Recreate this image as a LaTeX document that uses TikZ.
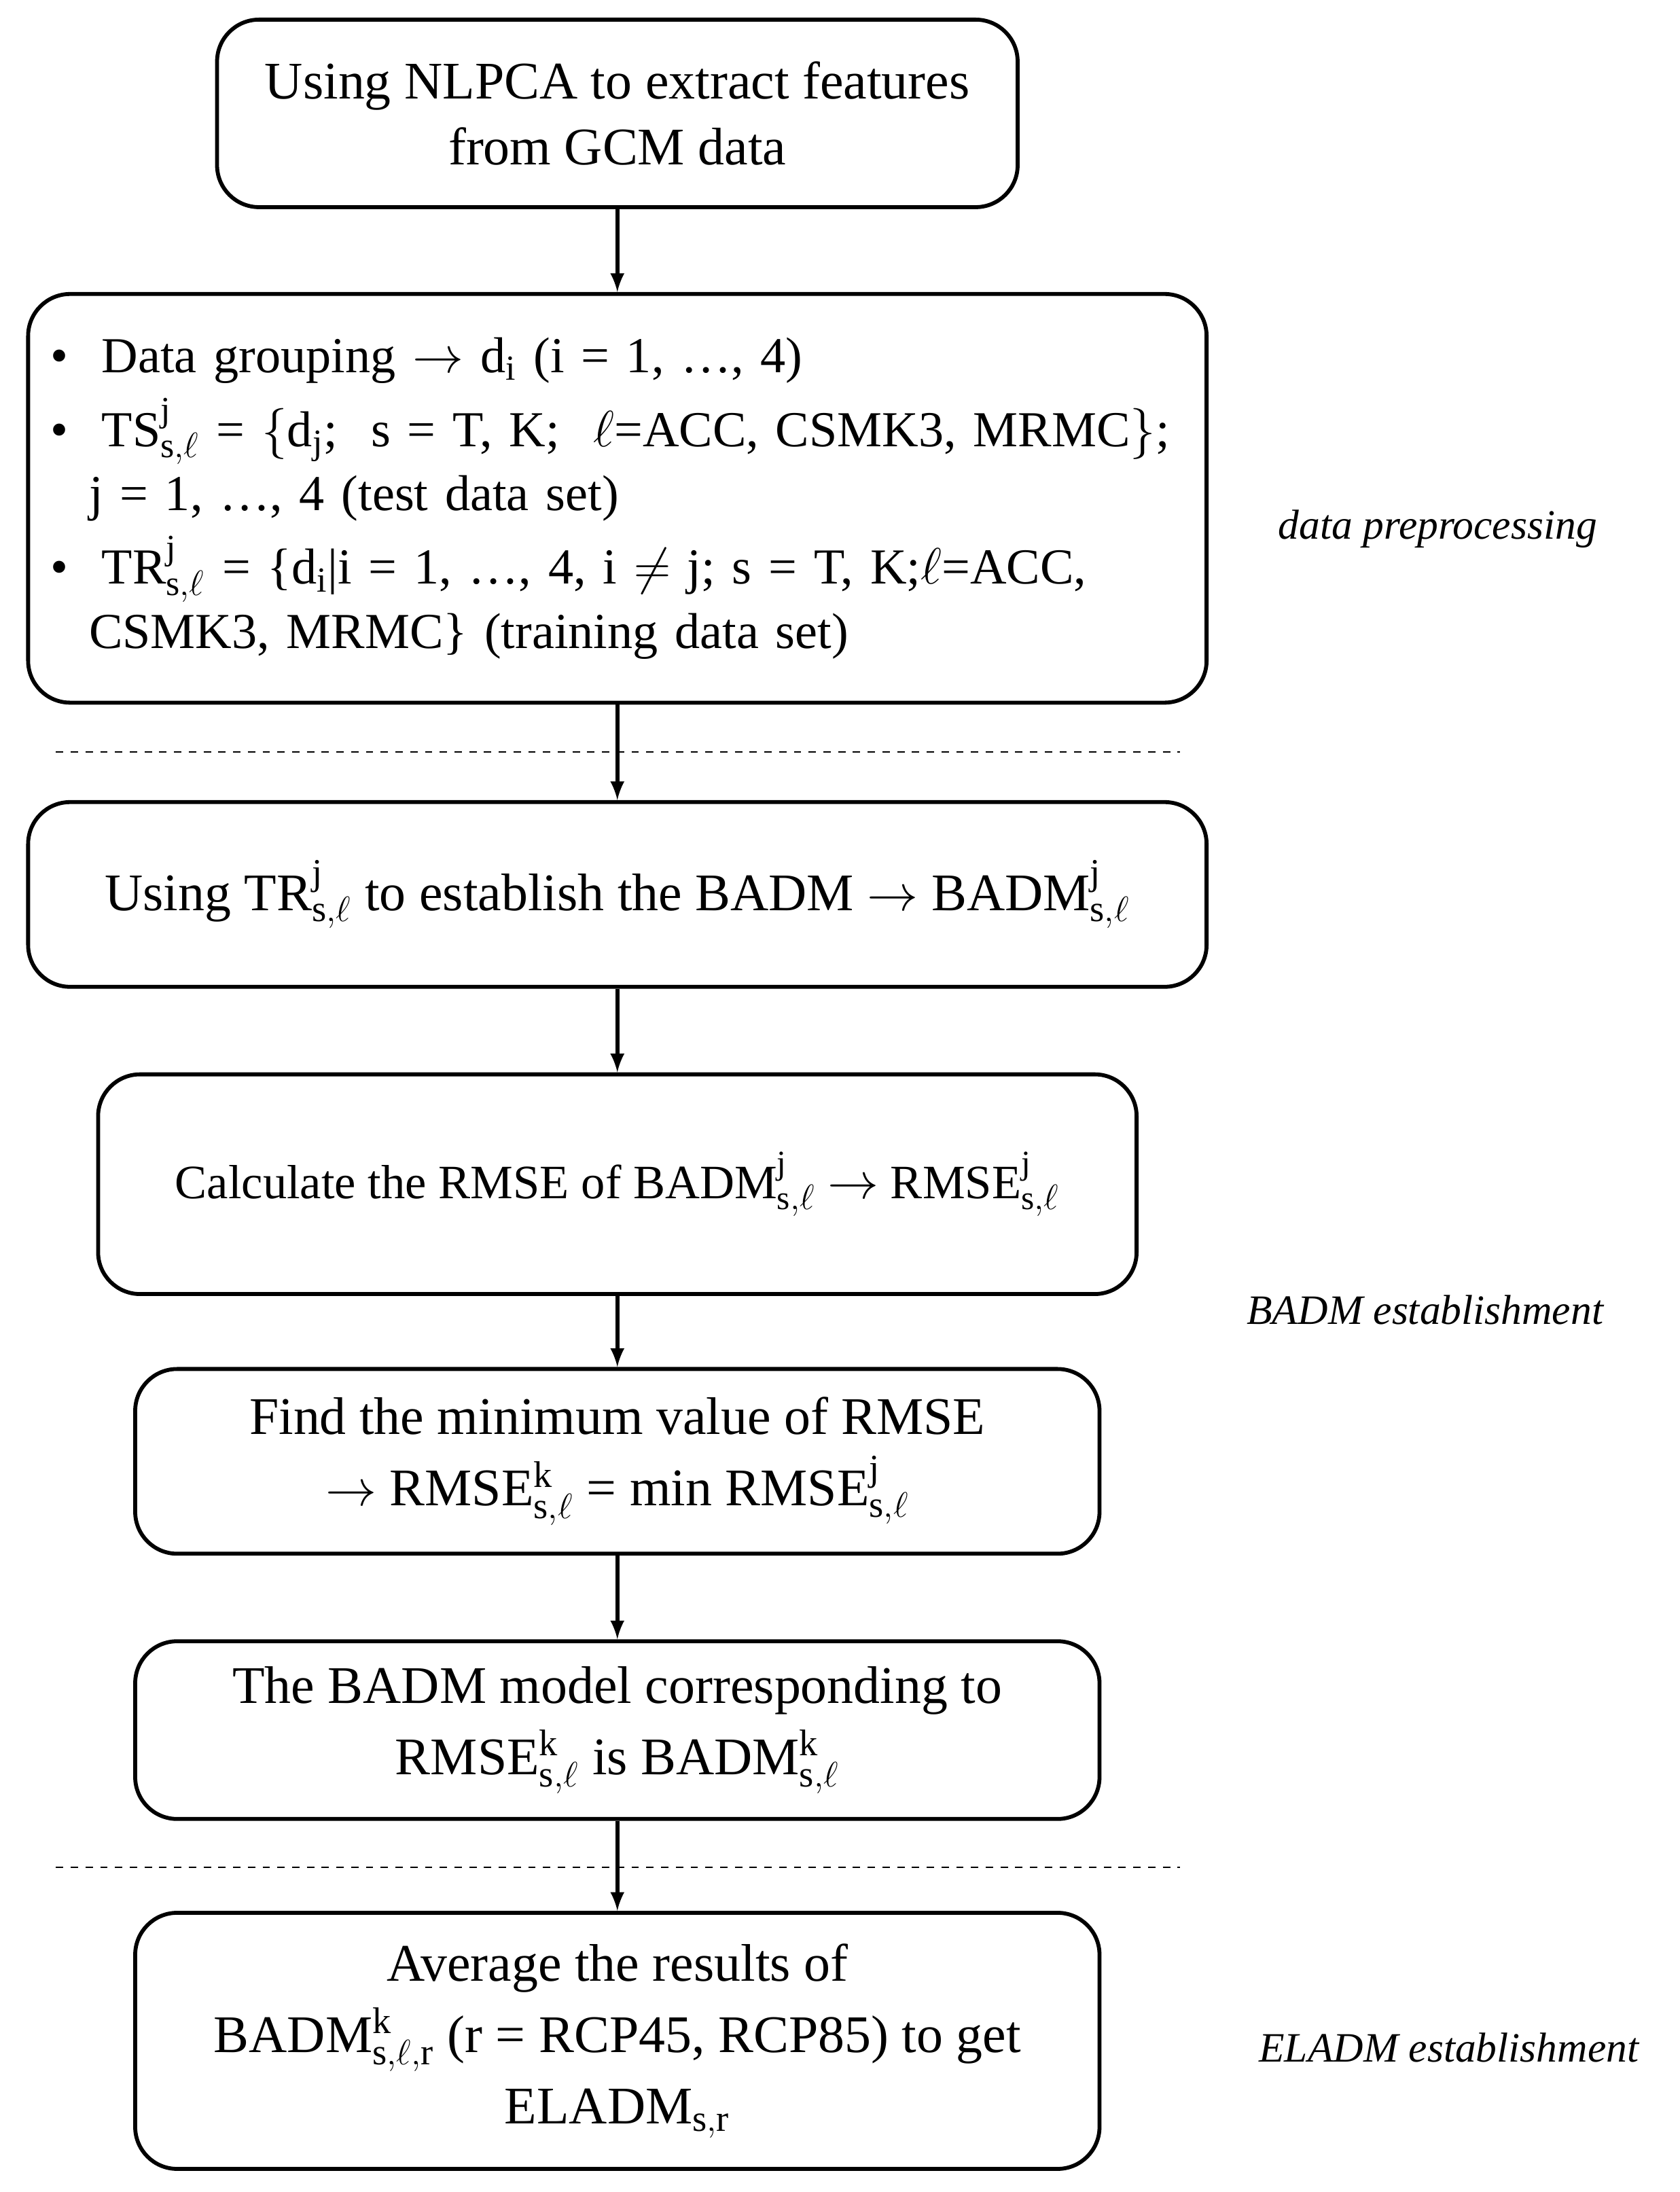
\documentclass[tikz,border=0pt]{standalone}
\usepackage{fontspec}
\setmainfont{Liberation Serif}
\usetikzlibrary{positioning}
\tikzset{
  stage/.style = {rectangle, rounded corners=0.6cm, draw=black, line width=1.6pt, align=center, font=\fontsize{21.5}{27}\selectfont},
  arrow/.style = {line width=1.6pt, ->, >=latex},
  sep/.style = {dashed, line width=0.6pt},
  tag/.style = {font=\fontsize{17}{21}\selectfont\itshape}
}
\begin{document}
\begin{tikzpicture}[x=0.02cm, y=-0.02cm]
    \useasboundingbox (0,0) rectangle (1200,1566);

    \node (nlpca) [stage, minimum width=11.44cm, minimum height=2.68cm] at (441,81) {Using NLPCA to extract features\\from GCM data};

    \node (group) [stage, minimum width=16.84cm, minimum height=5.84cm, align=left, text width=16.2cm, font=\fontsize{20.5}{26}\selectfont] at (441,356)
      {\textbullet\ \ Data grouping $\rightarrow$ d$_{\mathrm{i}}$ (i = 1, \dots, 4)\\[4pt]
       \textbullet\ \ TS$^{\mathrm{j}}_{\mathrm{s},\ell}$ = $\bigl\{$d$_{\mathrm{j}}$; \ s = T, K; \ $\ell$=ACC, CSMK3, MRMC$\bigr\}$;\\
       \hspace*{0.55cm}j = 1, \dots, 4 (test data set)\\[4pt]
       \textbullet\ \ TR$^{\mathrm{j}}_{\mathrm{s},\ell}$ = \{d$_{\mathrm{i}}$|i = 1, \dots, 4, i $\neq$ j; s = T, K;$\ell$=ACC,\\
       \hspace*{0.55cm}CSMK3, MRMC\} (training data set)};

    \node (train) [stage, minimum width=16.84cm, minimum height=2.64cm] at (441,639)
      {Using TR$^{\mathrm{j}}_{\mathrm{s},\ell}$ to establish the BADM $\rightarrow$ BADM$^{\mathrm{j}}_{\mathrm{s},\ell}$};

    \node (rmse) [stage, minimum width=14.84cm, minimum height=3.14cm, font=\fontsize{19.5}{24}\selectfont] at (441,846)
      {Calculate the RMSE of BADM$^{\mathrm{j}}_{\mathrm{s},\ell}$ $\rightarrow$ RMSE$^{\mathrm{j}}_{\mathrm{s},\ell}$};

    \node (minval) [stage, minimum width=13.78cm, minimum height=2.64cm] at (441,1044)
      {Find the minimum value of RMSE\\[2pt]$\rightarrow$ RMSE$^{\mathrm{k}}_{\mathrm{s},\ell}$ = min RMSE$^{\mathrm{j}}_{\mathrm{s},\ell}$};

    \node (model) [stage, minimum width=13.78cm, minimum height=2.54cm] at (441,1236)
      {The BADM model corresponding to\\[2pt]RMSE$^{\mathrm{k}}_{\mathrm{s},\ell}$ is BADM$^{\mathrm{k}}_{\mathrm{s},\ell}$};

    \node (avg) [stage, minimum width=13.78cm, minimum height=3.66cm] at (441,1458)
      {Average the results of\\[2pt]BADM$^{\mathrm{k}}_{\mathrm{s},\ell,\mathrm{r}}$ (r = RCP45, RCP85) to get\\[2pt]ELADM$_{\mathrm{s,r}}$};

    % phase labels
    \node (tagPre) [tag] at (1027,378) {data preprocessing};
    \node (tagBadm) [tag] at (1018,936) {BADM establishment};
    \node (tagEla) [tag] at (1035,1463) {ELADM establishment};

    % separators
    \coordinate (sepAL) at (40,537);
    \coordinate (sepAR) at (843,537);
    \coordinate (sepBL) at (40,1334);
    \coordinate (sepBR) at (843,1334);
    \draw[sep] (sepAL) -- (sepAR);
    \draw[sep] (sepBL) -- (sepBR);

    \draw[arrow] (nlpca) -- (group);
    \draw[arrow] (group) -- (train);
    \draw[arrow] (train) -- (rmse);
    \draw[arrow] (rmse) -- (minval);
    \draw[arrow] (minval) -- (model);
    \draw[arrow] (model) -- (avg);

\end{tikzpicture}
\end{document}
